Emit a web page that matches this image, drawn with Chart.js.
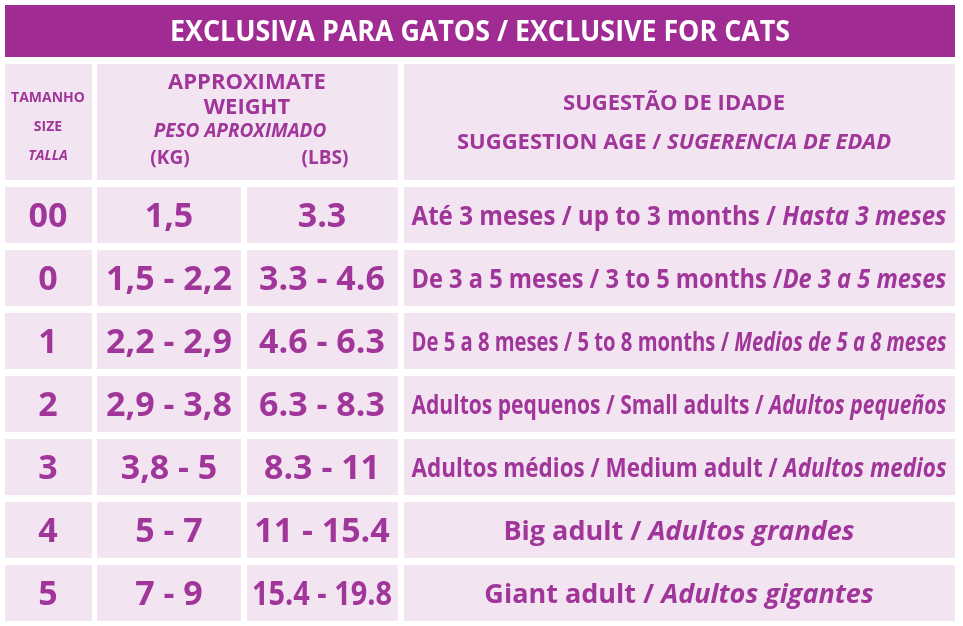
<!DOCTYPE html>
<html>
<head>
<meta charset="utf-8">
<script src="https://cdn.jsdelivr.net/npm/chart.js@4/dist/chart.umd.min.js"></script>
<style>
  html, body { margin: 0; padding: 0; background: #fff; }
  #wrap { width: 963px; height: 626px; }
</style>
</head>
<body>
<div id="wrap"><canvas id="sizeChart" width="963" height="626"></canvas></div>
<script>
const title = "EXCLUSIVA PARA GATOS / EXCLUSIVE FOR CATS";
const sizes = ["00", "0", "1", "2", "3", "4", "5"];
const weightKg = ["1,5", "1,5 - 2,2", "2,2 - 2,9", "2,9 - 3,8", "3,8 - 5", "5 - 7", "7 - 9"];
const weightLbs = ["3.3", "3.3 - 4.6", "4.6 - 6.3", "6.3 - 8.3", "8.3 - 11", "11 - 15.4", "15.4 - 19.8"];
// [normal part, italic part]
const ages = [
  ["Até 3 meses / up to 3 months / ", "Hasta 3 meses"],
  ["De 3 a 5 meses / 3 to 5 months /", "De 3 a 5 meses"],
  ["De 5 a 8 meses / 5 to 8 months / ", "Medios de 5 a 8 meses"],
  ["Adultos pequenos / Small adults / ", "Adultos pequeños"],
  ["Adultos médios / Medium adult / ", "Adultos medios"],
  ["Big adult / ", "Adultos grandes"],
  ["Giant adult / ", "Adultos gigantes"]
];

const colEdges = [[5, 92], [97, 241], [247, 398], [404, 955]];
const rowTop0 = 187, rowPitch = 63, rowH = 56;
const purple = "#a0359a", band = "#a02b93", cellBg = "#f3e4f1";
const FONT = '"Liberation Sans Narrow", "Open Sans", sans-serif';

function fitText(ctx, parts, cx, cy, maxW) {
  // parts: [{text, font}]
  let total = 0;
  parts.forEach(p => { ctx.font = p.font; p.w = ctx.measureText(p.text).width; total += p.w; });
  const s = total > maxW ? maxW / total : 1;
  ctx.save();
  ctx.translate(cx, cy);
  ctx.scale(s, 1);
  let x = -total / 2;
  ctx.textAlign = "left";
  ctx.textBaseline = "middle";
  parts.forEach(p => { ctx.font = p.font; ctx.fillText(p.text, x, 0); x += p.w; });
  ctx.restore();
}

const tablePlugin = {
  id: "table",
  beforeDatasetsDraw(chart) {
    const { ctx, scales: { x, y } } = chart;
    const px = v => x.getPixelForValue(v), py = v => y.getPixelForValue(v);
    const rect = (x0, y0, x1, y1, c) => { ctx.fillStyle = c; ctx.fillRect(px(x0), py(y0), px(x1) - px(x0), py(y1) - py(y0)); };
    ctx.save();
    // title band
    rect(5, 5, 955, 57, band);
    ctx.fillStyle = "#fff";
    fitText(ctx, [{ text: title, font: "bold 29px " + FONT }], px(480), py(33), 620);
    // header cells
    rect(5, 64, 92, 180, cellBg);
    rect(97, 64, 398, 180, cellBg);
    rect(404, 64, 955, 180, cellBg);
    ctx.fillStyle = purple;
    fitText(ctx, [{ text: "TAMANHO", font: "bold 14px " + FONT }], px(48), py(98), 80);
    fitText(ctx, [{ text: "SIZE", font: "bold 14px " + FONT }], px(48), py(127), 80);
    fitText(ctx, [{ text: "TALLA", font: "italic bold 14px " + FONT }], px(48), py(156), 80);
    fitText(ctx, [{ text: "APPROXIMATE", font: "bold 22px " + FONT }], px(247), py(83), 200);
    fitText(ctx, [{ text: "WEIGHT", font: "bold 22px " + FONT }], px(247), py(108), 200);
    fitText(ctx, [{ text: "PESO APROXIMADO", font: "italic bold 19px " + FONT }], px(240), py(132), 200);
    fitText(ctx, [{ text: "(KG)", font: "bold 19px " + FONT }], px(170), py(159), 100);
    fitText(ctx, [{ text: "(LBS)", font: "bold 19px " + FONT }], px(325), py(159), 100);
    fitText(ctx, [{ text: "SUGESTÃO DE IDADE", font: "bold 22px " + FONT }], px(674), py(104), 500);
    fitText(ctx, [{ text: "SUGGESTION AGE / ", font: "bold 22px " + FONT }, { text: "SUGERENCIA DE EDAD", font: "italic bold 22px " + FONT }], px(674), py(143), 500);
    // data rows
    sizes.forEach((s, i) => {
      const t = rowTop0 + i * rowPitch, b = t + rowH, m = (t + b) / 2 + 2;
      colEdges.forEach(([a, c]) => rect(a, t, c, b, cellBg));
      ctx.fillStyle = purple;
      fitText(ctx, [{ text: s, font: "bold 34px " + FONT }], px(48), py(m), 80);
      fitText(ctx, [{ text: weightKg[i], font: "bold 34px " + FONT }], px(169), py(m), 135);
      fitText(ctx, [{ text: weightLbs[i], font: "bold 34px " + FONT }], px(322), py(m), 140);
      fitText(ctx, [{ text: ages[i][0], font: "bold 27px " + FONT }, { text: ages[i][1], font: "italic bold 27px " + FONT }], px(679), py(m), 535);
    });
    ctx.restore();
  }
};

new Chart(document.getElementById("sizeChart"), {
  type: "scatter",
  data: { datasets: [{ data: [] }] },
  options: {
    responsive: false,
    animation: false,
    layout: { padding: 0 },
    plugins: { legend: { display: false }, tooltip: { enabled: false } },
    scales: {
      x: { type: "linear", min: 0, max: 963, display: false },
      y: { type: "linear", min: 0, max: 626, reverse: true, display: false }
    }
  },
  plugins: [tablePlugin]
});
</script>
</body>
</html>
